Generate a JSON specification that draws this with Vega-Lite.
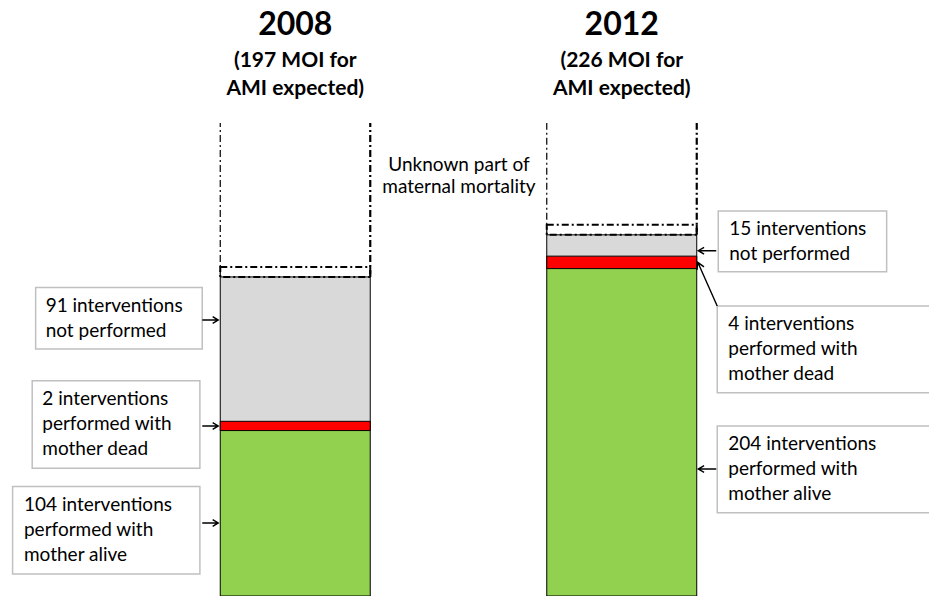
{
  "$schema": "https://vega.github.io/schema/vega-lite/v6.json",
  "width": 917,
  "height": 596,
  "padding": {"left": 0, "top": 0, "right": 12, "bottom": 0},
  "autosize": {"type": "none"},
  "background": "white",
  "config": {"view": {"stroke": null}, "font": "Lato"},
  "datasets": {
    "segments": [
      {"year": "2008", "segment": "alive", "rank": 1, "count": 104},
      {"year": "2008", "segment": "dead", "rank": 2, "count": 2},
      {"year": "2008", "segment": "not", "rank": 3, "count": 91},
      {"year": "2012", "segment": "alive", "rank": 1, "count": 204},
      {"year": "2012", "segment": "dead", "rank": 2, "count": 4},
      {"year": "2012", "segment": "not", "rank": 3, "count": 15}
    ],
    "years": [
      {"year": "2008", "sub": "(197 MOI for\nAMI expected)"},
      {"year": "2012", "sub": "(226 MOI for\nAMI expected)"}
    ],
    "notes": [
      {"id": "A1", "year": "2008", "label": "91 interventions\nnot performed", "ay": 171.5, "ptr": 170.4},
      {"id": "A2", "year": "2008", "label": "2 interventions\nperformed with\nmother dead", "ay": 105.9, "ptr": 105},
      {"id": "A3", "year": "2008", "label": "104 interventions\nperformed with\nmother alive", "ay": 40.6, "ptr": 45.1},
      {"id": "B1", "year": "2012", "label": "15 interventions\nnot performed", "ay": 219.0, "ptr": 213.2},
      {"id": "B2", "year": "2012", "label": "4 interventions\nperformed with\nmother dead", "ay": 152.3, "ptr": 206},
      {"id": "B3", "year": "2012", "label": "204 interventions\nperformed with\nmother alive", "ay": 78.2, "ptr": 78.4}
    ]
  },
  "layer": [
    {
      "data": {"name": "segments"},
      "mark": {"type": "bar", "stroke": "black", "strokeWidth": 1},
      "encoding": {
        "x": {"field": "year", "type": "nominal", "axis": null,
              "scale": {"domain": ["2008", "2012"], "paddingInner": 0.5406, "paddingOuter": 0.6746}},
        "y": {"field": "count", "type": "quantitative", "axis": null, "stack": "zero",
              "scale": {"domain": [0, 368], "nice": false}},
        "color": {"field": "segment", "type": "nominal", "legend": null,
                  "scale": {"domain": ["alive", "dead", "not"], "range": ["#92d050", "#ff0000", "#d9d9d9"]}},
        "order": {"field": "rank", "type": "quantitative"}
      }
    },
    {
      "data": {"name": "segments"},
      "transform": [
        {"stack": "count", "groupby": ["year"], "sort": [{"field": "rank"}], "as": ["s0", "s1"]},
        {"filter": "datum.segment === 'dead'"}
      ],
      "mark": {"type": "rect", "fill": "#ff0000", "stroke": "black", "strokeWidth": 1, "yOffset": 3, "y2Offset": -3},
      "encoding": {
        "x": {"field": "year", "type": "nominal"},
        "y": {"field": "s0", "type": "quantitative"},
        "y2": {"field": "s1"}
      }
    },
    {
      "data": {"name": "segments"},
      "transform": [{"aggregate": [{"op": "sum", "field": "count", "as": "total"}], "groupby": ["year"]}],
      "mark": {"type": "rect", "fill": null, "stroke": "black", "strokeWidth": 2, "strokeDash": [7, 3, 2, 3], "yOffset": -10},
      "encoding": {
        "x": {"field": "year", "type": "nominal"},
        "y": {"field": "total", "type": "quantitative"},
        "y2": {"field": "total"}
      }
    },
    {
      "data": {"name": "segments"},
      "transform": [{"aggregate": [{"op": "sum", "field": "count", "as": "total"}], "groupby": ["year"]}],
      "mark": {"type": "rule", "stroke": "black", "strokeWidth": 1.2, "strokeDash": [7, 3, 2, 3]},
      "encoding": {
        "x": {"field": "year", "type": "nominal", "bandPosition": 0},
        "y": {"field": "total", "type": "quantitative"},
        "y2": {"datum": 292}
      }
    },
    {
      "data": {"name": "segments"},
      "transform": [{"aggregate": [{"op": "sum", "field": "count", "as": "total"}], "groupby": ["year"]}],
      "mark": {"type": "rule", "stroke": "black", "strokeWidth": 2.2, "strokeDash": [7, 3, 2, 3]},
      "encoding": {
        "x": {"field": "year", "type": "nominal", "bandPosition": 1},
        "y": {"field": "total", "type": "quantitative"},
        "y2": {"datum": 292}
      }
    },
    {
      "data": {"name": "years"},
      "mark": {"type": "text", "font": "Lato", "fontSize": 32, "fontWeight": "bold", "align": "center", "baseline": "alphabetic", "dy": 35, "color": "black"},
      "encoding": {
        "x": {"field": "year", "type": "nominal"},
        "y": {"datum": 368},
        "text": {"field": "year"}
      }
    },
    {
      "data": {"name": "years"},
      "mark": {"type": "text", "font": "Lato", "fontSize": 21, "fontWeight": "bold", "align": "center", "baseline": "alphabetic", "dy": 67, "lineBreak": "\n", "lineHeight": 28, "color": "black"},
      "encoding": {
        "x": {"field": "year", "type": "nominal"},
        "y": {"datum": 368},
        "text": {"field": "sub"}
      }
    },
    {
      "data": {"values": [{"t": "Unknown part of\nmaternal mortality"}]},
      "mark": {"type": "text", "font": "Lato", "fontSize": 19, "align": "center", "baseline": "alphabetic", "dx": 163.7, "dy": 3, "lineBreak": "\n", "lineHeight": 22, "color": "black"},
      "encoding": {
        "x": {"datum": "2008", "type": "nominal"},
        "y": {"datum": 264.3},
        "text": {"field": "t"}
      }
    },
    {
      "data": {"name": "notes"},
      "transform": [{"filter": "datum.id === 'A1'"}],
      "mark": {"type": "rect", "width": 166.6, "xOffset": -176.3, "yOffset": -30.85, "y2Offset": 30.85, "fill": "white", "stroke": "#c0c0c0", "strokeWidth": 1.5},
      "encoding": {"x": {"field": "year", "type": "nominal"}, "y": {"field": "ay", "type": "quantitative"}, "y2": {"field": "ay"}}
    },
    {
      "data": {"name": "notes"},
      "transform": [{"filter": "datum.id === 'A2'"}],
      "mark": {"type": "rect", "width": 167.7, "xOffset": -179.2, "yOffset": -43.8, "y2Offset": 43.8, "fill": "white", "stroke": "#c0c0c0", "strokeWidth": 1.5},
      "encoding": {"x": {"field": "year", "type": "nominal"}, "y": {"field": "ay", "type": "quantitative"}, "y2": {"field": "ay"}}
    },
    {
      "data": {"name": "notes"},
      "transform": [{"filter": "datum.id === 'A3'"}],
      "mark": {"type": "rect", "width": 187.3, "xOffset": -189, "yOffset": -43.65, "y2Offset": 43.65, "fill": "white", "stroke": "#c0c0c0", "strokeWidth": 1.5},
      "encoding": {"x": {"field": "year", "type": "nominal"}, "y": {"field": "ay", "type": "quantitative"}, "y2": {"field": "ay"}}
    },
    {
      "data": {"name": "notes"},
      "transform": [{"filter": "datum.id === 'B1'"}],
      "mark": {"type": "rect", "width": 168.4, "xOffset": 180.7, "yOffset": -30.35, "y2Offset": 30.35, "fill": "white", "stroke": "#c0c0c0", "strokeWidth": 1.5},
      "encoding": {"x": {"field": "year", "type": "nominal"}, "y": {"field": "ay", "type": "quantitative"}, "y2": {"field": "ay"}}
    },
    {
      "data": {"name": "notes"},
      "transform": [{"filter": "datum.id === 'B2' || datum.id === 'B3'"}],
      "mark": {"type": "rect", "width": 218, "xOffset": 204.5, "yOffset": -43.35, "y2Offset": 43.35, "fill": "white", "stroke": "#c0c0c0", "strokeWidth": 1.5},
      "encoding": {"x": {"field": "year", "type": "nominal"}, "y": {"field": "ay", "type": "quantitative"}, "y2": {"field": "ay"}}
    },
    {
      "data": {"name": "notes"},
      "transform": [{"filter": "datum.id === 'A1'"}],
      "mark": {"type": "text", "font": "Lato", "fontSize": 19, "align": "left", "baseline": "middle", "lineBreak": "\n", "lineHeight": 25, "dx": -249.6, "dy": -12.5, "color": "black"},
      "encoding": {"x": {"field": "year", "type": "nominal"}, "y": {"field": "ay", "type": "quantitative"}, "text": {"field": "label"}}
    },
    {
      "data": {"name": "notes"},
      "transform": [{"filter": "datum.id === 'A2'"}],
      "mark": {"type": "text", "font": "Lato", "fontSize": 19, "align": "left", "baseline": "middle", "lineBreak": "\n", "lineHeight": 25, "dx": -253, "dy": -25, "color": "black"},
      "encoding": {"x": {"field": "year", "type": "nominal"}, "y": {"field": "ay", "type": "quantitative"}, "text": {"field": "label"}}
    },
    {
      "data": {"name": "notes"},
      "transform": [{"filter": "datum.id === 'A3'"}],
      "mark": {"type": "text", "font": "Lato", "fontSize": 19, "align": "left", "baseline": "middle", "lineBreak": "\n", "lineHeight": 25, "dx": -271.3, "dy": -25, "color": "black"},
      "encoding": {"x": {"field": "year", "type": "nominal"}, "y": {"field": "ay", "type": "quantitative"}, "text": {"field": "label"}}
    },
    {
      "data": {"name": "notes"},
      "transform": [{"filter": "datum.id === 'B1'"}],
      "mark": {"type": "text", "font": "Lato", "fontSize": 19, "align": "left", "baseline": "middle", "lineBreak": "\n", "lineHeight": 25, "dx": 107.5, "dy": -12.5, "color": "black"},
      "encoding": {"x": {"field": "year", "type": "nominal"}, "y": {"field": "ay", "type": "quantitative"}, "text": {"field": "label"}}
    },
    {
      "data": {"name": "notes"},
      "transform": [{"filter": "datum.id === 'B2' || datum.id === 'B3'"}],
      "mark": {"type": "text", "font": "Lato", "fontSize": 19, "align": "left", "baseline": "middle", "lineBreak": "\n", "lineHeight": 25, "dx": 106.5, "dy": -25, "color": "black"},
      "encoding": {"x": {"field": "year", "type": "nominal"}, "y": {"field": "ay", "type": "quantitative"}, "text": {"field": "label"}}
    },
    {
      "data": {"name": "notes"},
      "transform": [{"filter": "datum.year === '2008'"}],
      "mark": {"type": "point", "shape": "M -1 0 L 1 0 M 0.3 -0.42 L 1 0 L 0.3 0.42", "size": 256, "filled": false, "stroke": "black", "strokeWidth": 1.4, "opacity": 1, "xOffset": -10},
      "encoding": {"x": {"field": "year", "type": "nominal", "bandPosition": 0}, "y": {"field": "ptr", "type": "quantitative"}}
    },
    {
      "data": {"name": "notes"},
      "transform": [{"filter": "datum.id === 'B1' || datum.id === 'B3'"}],
      "mark": {"type": "point", "shape": "M 1 0 L -1 0 M -0.35 -0.38 L -1 0 L -0.35 0.38", "size": 324, "filled": false, "stroke": "black", "strokeWidth": 1.4, "opacity": 1, "xOffset": 10.5},
      "encoding": {"x": {"field": "year", "type": "nominal", "bandPosition": 1}, "y": {"field": "ptr", "type": "quantitative"}}
    },
    {
      "data": {"name": "notes"},
      "transform": [{"filter": "datum.id === 'B2'"}],
      "mark": {"type": "point", "shape": "M 1 0 L -1 0 M -0.72 -0.16 L -1 0 L -0.72 0.16", "size": 2285, "angle": 66, "filled": false, "stroke": "black", "strokeWidth": 1.4, "opacity": 1, "xOffset": 10.75, "yOffset": 21.8},
      "encoding": {"x": {"field": "year", "type": "nominal", "bandPosition": 1}, "y": {"field": "ptr", "type": "quantitative"}}
    }
  ]
}
